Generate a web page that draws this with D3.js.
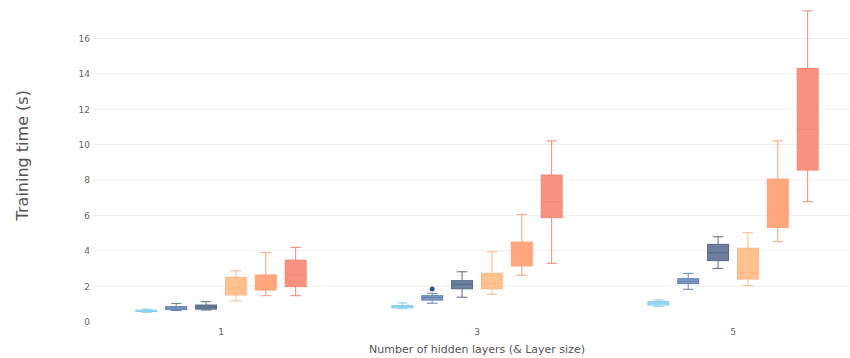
<!DOCTYPE html>
<html>
<head>
<meta charset="utf-8">
<script src="https://cdn.jsdelivr.net/npm/d3@7"></script>
<style>
  html, body { margin: 0; padding: 0; background: #fff; }
  svg { display: block; }
</style>
</head>
<body>
<svg id="chart" width="850" height="358"></svg>
<script>
// ---------------- DATA ----------------
const categories = ["1", "3", "5"];
const seriesNames = ["Size 1", "Size 2", "Size 3", "Size 4", "Size 5", "Size 6"];
const yTicks = [0, 2, 4, 6, 8, 10, 12, 14, 16];

// each entry: [min, q1, median, q3, max] for categories 1, 3, 5
const series1 = [[0.52, 0.57, 0.60, 0.64, 0.70], [0.72, 0.77, 0.85, 0.91, 1.05], [0.86, 0.93, 1.03, 1.13, 1.22]];
const series2 = [[0.62, 0.67, 0.76, 0.84, 1.02], [1.03, 1.21, 1.35, 1.46, 1.59], [1.82, 2.14, 2.27, 2.42, 2.72]];
const series3 = [[0.65, 0.70, 0.82, 0.93, 1.12], [1.37, 1.85, 2.10, 2.31, 2.81], [3.00, 3.44, 3.89, 4.36, 4.79]];
const series4 = [[1.16, 1.50, 1.90, 2.50, 2.87], [1.54, 1.85, 2.15, 2.72, 3.94], [2.02, 2.40, 2.76, 4.14, 5.02]];
const series5 = [[1.46, 1.78, 2.25, 2.63, 3.89], [2.61, 3.14, 3.81, 4.49, 6.06], [4.51, 5.32, 6.40, 8.05, 10.21]];
const series6 = [[1.46, 1.97, 2.63, 3.47, 4.19], [3.29, 5.87, 6.77, 8.28, 10.21], [6.77, 8.56, 10.86, 14.30, 17.56]];
// outliers: [series index, category index, value]
const outliers = [[1, 1, 1.84]];

const lineColors = ["#86cfee", "#6283b7", "#56698a", "#ffb680", "#ffa078", "#f28774"];
const fillColors = ["#a8ddf4", "#7c9bc8", "#6c7f9e", "#ffc18f", "#ffa87e", "#f8917d"];

// ---------------- CHART ----------------
const allSeries = [series1, series2, series3, series4, series5, series6];
const svg = d3.select("#chart");
svg.append("rect").attr("width", 850).attr("height", 358).attr("fill", "#fff");

const plotLeft = 93, plotRight = 861, plotTop = 3, plotBottom = 321.5;

const x = d3.scaleBand().domain(categories).range([plotLeft, plotRight]).paddingInner(0).paddingOuter(0);
const y = d3.scaleLinear().domain([0, 18]).range([plotBottom, plotBottom - 18 * 17.69]);

const groupSpan = x.bandwidth() * 0.7;
const xs = d3.scaleBand().domain(d3.range(allSeries.length)).range([0, groupSpan]).paddingInner(0).paddingOuter(0);
const boxW = xs.bandwidth() * 0.7;

// gridlines
const grid = svg.append("g");
grid.selectAll("line").data(yTicks.filter(d => d > 0)).join("line")
  .attr("x1", plotLeft).attr("x2", plotRight)
  .attr("y1", d => y(d)).attr("y2", d => y(d))
  .attr("stroke", "#eeeeee").attr("stroke-width", 1);

// y axis
const yAxis = d3.axisLeft(y).tickValues(yTicks).tickSize(0).tickPadding(3);
const yg = svg.append("g").attr("transform", `translate(${plotLeft - 0},0)`).call(yAxis);
yg.select(".domain").remove();
yg.selectAll("text").attr("font-family", "DejaVu Sans, Verdana, sans-serif").attr("font-size", 9).attr("fill", "#666");

// x axis
const xAxis = d3.axisBottom(x).tickSize(0).tickPadding(7);
const xg = svg.append("g").attr("transform", `translate(0,${plotBottom})`).call(xAxis);
xg.select(".domain").remove();
xg.selectAll("text").attr("font-family", "DejaVu Sans, Verdana, sans-serif").attr("font-size", 9).attr("fill", "#666");

// boxes
allSeries.forEach((s, si) => {
  const g = svg.append("g");
  s.forEach((st, ci) => {
    const [mn, q1, med, q3, mx] = st;
    const cx = x(categories[ci]) + (x.bandwidth() - groupSpan) / 2 + xs(si) + xs.bandwidth() / 2;
    const lc = lineColors[si];
    // whiskers
    g.append("line").attr("x1", cx).attr("x2", cx).attr("y1", y(q3)).attr("y2", y(mx)).attr("stroke", lc).attr("stroke-width", 1);
    g.append("line").attr("x1", cx).attr("x2", cx).attr("y1", y(q1)).attr("y2", y(mn)).attr("stroke", lc).attr("stroke-width", 1);
    g.append("line").attr("x1", cx - boxW / 4).attr("x2", cx + boxW / 4).attr("y1", y(mx)).attr("y2", y(mx)).attr("stroke", lc).attr("stroke-width", 1);
    g.append("line").attr("x1", cx - boxW / 4).attr("x2", cx + boxW / 4).attr("y1", y(mn)).attr("y2", y(mn)).attr("stroke", lc).attr("stroke-width", 1);
    // box
    g.append("rect").attr("x", cx - boxW / 2).attr("width", boxW)
      .attr("y", y(q3)).attr("height", Math.max(1, y(q1) - y(q3)))
      .attr("fill", fillColors[si]).attr("stroke", lc).attr("stroke-width", 1);
    // median
    g.append("line").attr("x1", cx - boxW / 2).attr("x2", cx + boxW / 2).attr("y1", y(med)).attr("y2", y(med)).attr("stroke", lc).attr("stroke-width", 1);
  });
});

// outliers
outliers.forEach(([si, ci, v]) => {
  const cx = x(categories[ci]) + (x.bandwidth() - groupSpan) / 2 + xs(si) + xs.bandwidth() / 2;
  svg.append("circle").attr("cx", cx).attr("cy", y(v)).attr("r", 2.5).attr("fill", "#2e5491");
});

// titles
svg.append("text").attr("x", (plotLeft + plotRight) / 2).attr("y", 353)
  .attr("text-anchor", "middle").attr("font-family", "DejaVu Sans, Verdana, sans-serif")
  .attr("font-size", 11).attr("fill", "#555").text("Number of hidden layers (& Layer size)");

svg.append("text").attr("transform", `translate(28,${(plotTop + plotBottom) / 2 - 7}) rotate(-90)`)
  .attr("text-anchor", "middle").attr("font-family", "DejaVu Sans, Verdana, sans-serif")
  .attr("font-size", 16).attr("fill", "#555").text("Training time (s)");
</script>
</body>
</html>
